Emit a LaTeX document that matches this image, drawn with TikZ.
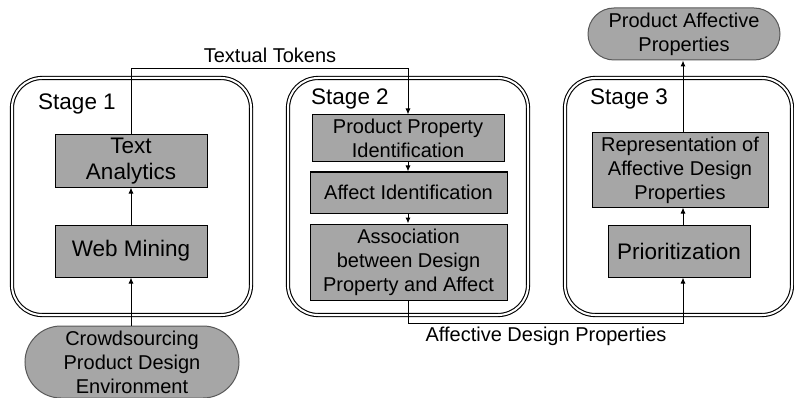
\documentclass[tikz,border=0pt]{standalone}
\usepackage{fontspec}
\setmainfont{Liberation Sans}
\usetikzlibrary{arrows.meta,shapes.misc}

\begin{document}
\begin{tikzpicture}[x=1pt,y=-1pt,
    stagebox/.style={draw,double,line width=1.1pt,double distance=2pt,rounded corners=30pt,inner sep=0pt},
    procbox/.style={draw,fill=boxgray,line width=1pt,inner sep=0pt,align=center,font=\fontsize{20}{24}\selectfont},
    termbox/.style={rounded rectangle,draw=gray!70!black,fill=boxgray,line width=1pt,inner sep=0pt,align=center,font=\fontsize{20}{24}\selectfont},
    biglbl/.style={font=\fontsize{22.5}{26}\selectfont},
    lbl/.style={font=\fontsize{20}{24}\selectfont,inner sep=0pt},
    flow/.style={-{Latex[length=6pt,width=5pt]},line width=1pt}]
    \definecolor{boxgray}{HTML}{A6A6A6}
    \useasboundingbox (0,0) rectangle (794,398);
    % Stages
    \node (s1) at (131.5,196.5) [stagebox,minimum width=239pt,minimum height=237pt] {};
    \node (s2) at (408,196.5) [stagebox,minimum width=240pt,minimum height=237pt] {};
    \node (s3) at (678.5,196.5) [stagebox,minimum width=227pt,minimum height=237pt] {};
    \node (s1lbl) at (77,104) [biglbl] {Stage 1};
    \node (s2lbl) at (350,99) [biglbl] {Stage 2};
    \node (s3lbl) at (629,99) [biglbl] {Stage 3};
    % Nodes
    \node (ta) at (131,161) [procbox,biglbl,minimum width=152pt,minimum height=52pt] {Text\\Analytics};
    \node (wm) at (131,251) [procbox,biglbl,minimum width=152pt,minimum height=52pt] {Web Mining};
    \node (cpde) at (132,362) [termbox,minimum width=214pt,minimum height=72pt] {Crowdsourcing\\Product Design\\Environment};
    \node (ppi) at (408,138.5) [procbox,minimum width=192pt,minimum height=47pt] {Product Property\\Identification};
    \node (ai) at (408.5,192.5) [procbox,minimum width=197pt,minimum height=41pt] {Affect Identification};
    \node (adp) at (408.5,262) [procbox,minimum width=197pt,minimum height=76pt] {Association\\between Design\\Property and Affect};
    \node (rep) at (680,170) [procbox,minimum width=176pt,minimum height=74pt] {Representation of\\Affective Design\\Properties};
    \node (pri) at (679,251) [procbox,biglbl,minimum width=142pt,minimum height=52pt] {Prioritization};
    \node (pap) at (684,34) [termbox,minimum width=192pt,minimum height=52pt] {Product Affective\\Properties};
    % Edges
    \coordinate (tt1) at (131,69);
    \coordinate (tt2) at (408,69);
    \coordinate (ad1) at (408,323);
    \coordinate (ad2) at (683,323);
    \draw[flow] (cpde.north -| wm) -- (wm.south);
    \draw[flow] (wm) -- (ta);
    \draw[flow] (ta.north) -- (tt1) -- (tt2) -- (ppi.north -| tt2);
    \draw[flow] (ppi.south) -- (ai.north -| ppi);
    \draw[flow] (ai.south -| ppi) -- (adp.north -| ppi);
    \draw[flow] (adp.south -| ad1) -- (ad1) -- (ad2) -- (pri.south -| ad2);
    \draw[flow] (pri.north -| ad2) -- (rep.south -| ad2);
    \draw[flow] (rep.north -| ad2) -- (pap.south -| ad2);
    % Labels
    \node (ttlbl) at (270,55) [lbl] {Textual Tokens};
    \node (adlbl) at (546,336) [lbl] {Affective Design Properties};
\end{tikzpicture}
\end{document}
